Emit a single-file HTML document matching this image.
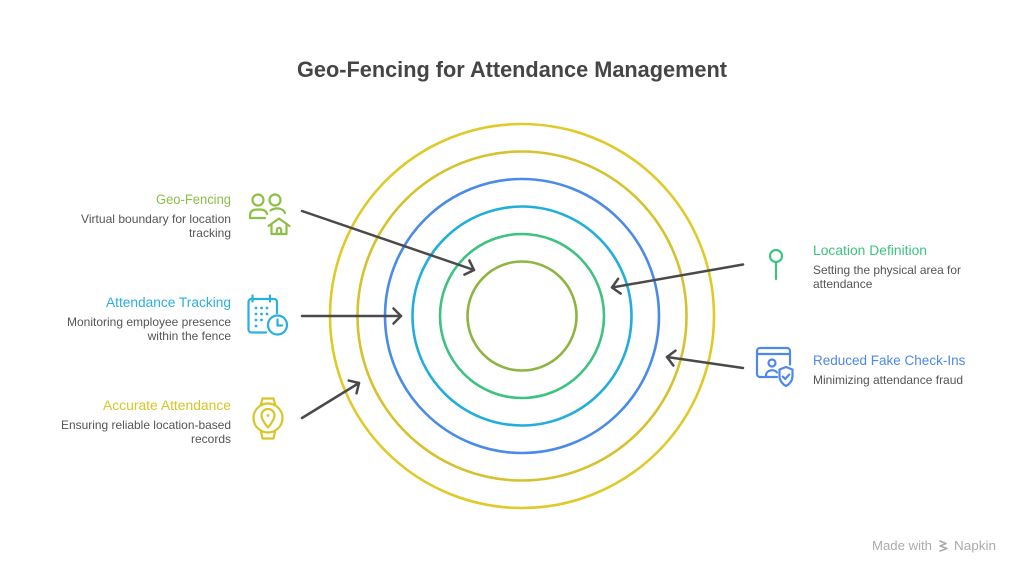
<!DOCTYPE html>
<html>
<head>
<meta charset="utf-8">
<style>
  html, body { margin: 0; padding: 0; background: #ffffff; }
  svg { display: block; }
  text { font-family: "Liberation Sans", Arial, sans-serif; }
</style>
</head>
<body>
<svg width="1024" height="577" viewBox="0 0 1024 577" xmlns="http://www.w3.org/2000/svg">
  <defs>
    <marker id="ah" viewBox="-10 -10 20 20" markerWidth="20" markerHeight="20" refX="0" refY="0" orient="auto" markerUnits="userSpaceOnUse">
      <path d="M-7.5,-7.5 L0,0 L-7.5,7.5" fill="none" stroke="#4a4a4a" stroke-width="2.5" stroke-linecap="round" stroke-linejoin="round"/>
    </marker>
  </defs>
  <rect width="1024" height="577" fill="#ffffff"/>

  <!-- Title -->
  <text x="512" y="77" text-anchor="middle" font-size="22" font-weight="bold" fill="#454545" textLength="430" lengthAdjust="spacingAndGlyphs">Geo-Fencing for Attendance Management</text>

  <!-- Concentric rings -->
  <g fill="none" stroke-width="2.6">
    <circle cx="522" cy="316" r="192" stroke="#DFCA2A"/>
    <circle cx="522" cy="316" r="164.5" stroke="#D6C22E"/>
    <circle cx="522" cy="316" r="137" stroke="#4B8BE8"/>
    <circle cx="522" cy="316" r="109.5" stroke="#22AEDA"/>
    <circle cx="522" cy="316" r="82" stroke="#3DC27F"/>
    <circle cx="522" cy="316" r="54.5" stroke="#8DB542"/>
  </g>

  <!-- Arrows -->
  <g stroke="#4a4a4a" stroke-width="2.5" fill="none" stroke-linecap="round">
    <line x1="302" y1="211" x2="474" y2="270" marker-end="url(#ah)"/>
    <line x1="302" y1="316" x2="401" y2="316" marker-end="url(#ah)"/>
    <line x1="302" y1="418" x2="359" y2="383" marker-end="url(#ah)"/>
    <line x1="743" y1="264.5" x2="612" y2="287.5" marker-end="url(#ah)"/>
    <line x1="743" y1="368" x2="667" y2="357" marker-end="url(#ah)"/>
  </g>

  <!-- Left texts -->
  <text x="231" y="204" text-anchor="end" font-size="13.5" fill="#8DBF45" textLength="75" lengthAdjust="spacingAndGlyphs">Geo-Fencing</text>
  <text x="231" y="223" text-anchor="end" font-size="12" fill="#555555" textLength="150" lengthAdjust="spacingAndGlyphs">Virtual boundary for location</text>
  <text x="231" y="237" text-anchor="end" font-size="12" fill="#555555">tracking</text>

  <text x="231" y="307" text-anchor="end" font-size="13.5" fill="#2AAFE3" textLength="125" lengthAdjust="spacingAndGlyphs">Attendance Tracking</text>
  <text x="231" y="326" text-anchor="end" font-size="12" fill="#555555" textLength="164" lengthAdjust="spacingAndGlyphs">Monitoring employee presence</text>
  <text x="231" y="340" text-anchor="end" font-size="12" fill="#555555">within the fence</text>

  <text x="231" y="410" text-anchor="end" font-size="13.5" fill="#D9C526" textLength="128" lengthAdjust="spacingAndGlyphs">Accurate Attendance</text>
  <text x="231" y="429" text-anchor="end" font-size="12" fill="#555555" textLength="170" lengthAdjust="spacingAndGlyphs">Ensuring reliable location-based</text>
  <text x="231" y="443" text-anchor="end" font-size="12" fill="#555555">records</text>

  <!-- Right texts -->
  <text x="813" y="255" font-size="13.5" fill="#3CC47F" textLength="114" lengthAdjust="spacingAndGlyphs">Location Definition</text>
  <text x="813" y="274" font-size="12" fill="#555555" textLength="148" lengthAdjust="spacingAndGlyphs">Setting the physical area for</text>
  <text x="813" y="288" font-size="12" fill="#555555">attendance</text>

  <text x="813" y="365" font-size="13.5" fill="#4D88EA">Reduced Fake Check-Ins</text>
  <text x="813" y="384" font-size="12" fill="#555555">Minimizing attendance fraud</text>

  <!-- Icon: Geo-Fencing (people + house) -->
  <g stroke="#8DBF45" stroke-width="2.2" fill="none" stroke-linecap="round" stroke-linejoin="round">
    <circle cx="258" cy="200" r="5.5"/>
    <circle cx="275" cy="200" r="5.5"/>
    <path d="M250,218 L250,216 Q250,209.5 257,209.5 L260,209.5 Q266,209.5 267,214"/>
    <path d="M250,218 L265,218"/>
    <path d="M270.5,210.5 Q275,207.5 280,208.8 Q284,210 285,213"/>
    <path d="M268.5,226 L279,218.5 L289.5,226"/>
    <path d="M271.5,224 V234 H286.5 V224"/>
    <path d="M276.8,234 V230 a2.2,2.2 0 0 1 4.4,0 V234"/>
  </g>

  <!-- Icon: Calendar + clock -->
  <g stroke="#2AAFE3" stroke-width="2.2" fill="none" stroke-linecap="round" stroke-linejoin="round">
    <path d="M266,332.5 H251.5 a3,3 0 0 1 -3,-3 V302 a3,3 0 0 1 3,-3 H274 a3,3 0 0 1 3,3 V313"/>
    <path d="M252.5,295.5 V301.5 M270,295.5 V301.5"/>
    <circle cx="277.5" cy="325" r="9.5"/>
    <path d="M277.5,319.5 V325.5 H282"/>
  </g>
  <g fill="#2AAFE3">
    <circle cx="256" cy="308" r="1.4"/><circle cx="261.5" cy="308" r="1.4"/><circle cx="267" cy="308" r="1.4"/>
    <circle cx="256" cy="314" r="1.4"/><circle cx="261.5" cy="314" r="1.4"/><circle cx="267" cy="314" r="1.4"/>
    <circle cx="256" cy="320" r="1.4"/><circle cx="261.5" cy="320" r="1.4"/>
    <circle cx="256" cy="326" r="1.4"/>
  </g>

  <!-- Icon: Watch with pin -->
  <g stroke="#D9C526" stroke-width="2.2" fill="none" stroke-linecap="round" stroke-linejoin="round">
    <circle cx="268" cy="418" r="14.5"/>
    <path d="M261,404 L262.5,398.5 H273.5 L275,404"/>
    <path d="M261,432 L262.5,438.5 H273.5 L275,432"/>
    <path d="M268,427.5 C266,425 261.5,420 261.5,415.5 a6.5,6.5 0 0 1 13,0 C274.5,420 270,425 268,427.5 Z"/>
  </g>
  <circle cx="268" cy="415.5" r="1.4" fill="#D9C526"/>

  <!-- Icon: Location pin -->
  <g stroke="#3CC47F" stroke-width="2.2" fill="none" stroke-linecap="round">
    <circle cx="776" cy="256" r="6"/>
    <path d="M776,262 V279"/>
  </g>

  <!-- Icon: Window + person + shield -->
  <g stroke="#4D88EA" stroke-width="2.2" fill="none" stroke-linecap="round" stroke-linejoin="round">
    <path d="M777,377 H760 a3,3 0 0 1 -3,-3 V351 a3,3 0 0 1 3,-3 H787 a3,3 0 0 1 3,3 V364.5"/>
    <path d="M757,354 H790"/>
    <circle cx="772" cy="363" r="3.5"/>
    <path d="M766,376.5 V375 a6,5 0 0 1 11,-2.5"/>
    <path d="M786,367 L779.5,369.5 V376 C779.5,381 783,384.5 786,386 C789,384.5 792.5,381 792.5,376 V369.5 Z"/>
    <path d="M782.7,376.5 L785.2,379 L789.3,374.5"/>
  </g>

  <!-- Footer -->
  <text x="872" y="550" font-size="12.5" fill="#ababab" textLength="60" lengthAdjust="spacingAndGlyphs">Made with</text>
  <g stroke="#ababab" stroke-width="1.6" fill="none" stroke-linecap="round" stroke-linejoin="round">
    <path d="M940,541 L946,543.5 L940,546 L947,548.5 L940,551"/>
  </g>
  <text x="954" y="550" font-size="12.5" fill="#ababab" textLength="42" lengthAdjust="spacingAndGlyphs">Napkin</text>
</svg>
</body>
</html>
